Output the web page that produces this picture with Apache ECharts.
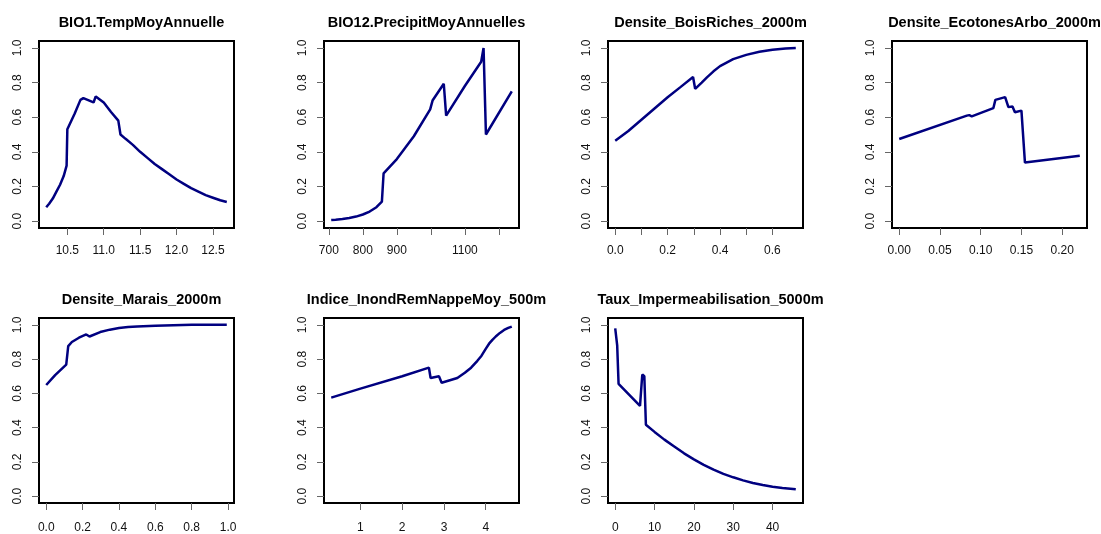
<!DOCTYPE html>
<html>
<head>
<meta charset="utf-8">
<script src="https://cdn.jsdelivr.net/npm/echarts@6/dist/echarts.min.js"></script>
<style>
  html, body { margin: 0; padding: 0; background: #fff; }
  #chart { width: 1101px; height: 534px; }
</style>
</head>
<body>
<div id="chart"></div>
<script>
// panel titles
const titles = [
    "BIO1.TempMoyAnnuelle",
    "BIO12.PrecipitMoyAnnuelles",
    "Densite_BoisRiches_2000m",
    "Densite_EcotonesArbo_2000m",
    "Densite_Marais_2000m",
    "Indice_InondRemNappeMoy_500m",
    "Taux_Impermeabilisation_5000m"
];

// response curves
const bio1X = [10.21, 10.25, 10.3, 10.35, 10.4, 10.45, 10.49, 10.5, 10.6, 10.68, 10.72, 10.86, 10.89, 11.0, 11.1, 11.2, 11.23,
               11.3, 11.4, 11.5, 11.6, 11.7, 11.8, 11.9, 12.0, 12.1, 12.2, 12.3, 12.4, 12.5, 12.6, 12.69];
const bio1Y = [0.08, 0.10, 0.13, 0.17, 0.21, 0.26, 0.32, 0.53, 0.62, 0.70, 0.71, 0.685, 0.72, 0.685, 0.63, 0.58, 0.50,
               0.475, 0.44, 0.40, 0.365, 0.33, 0.30, 0.27, 0.24, 0.215, 0.19, 0.17, 0.15, 0.135, 0.12, 0.11];

const bio12X = [707, 720, 740, 760, 780, 800, 820, 840, 856, 861, 900, 950, 998, 1005, 1038, 1045, 1100, 1148, 1155, 1162, 1238];
const bio12Y = [0.006, 0.008, 0.012, 0.018, 0.026, 0.038, 0.055, 0.08, 0.112, 0.275, 0.358, 0.49, 0.645, 0.696, 0.793, 0.609, 0.78, 0.92, 1.0, 0.50, 0.749];

const boisX = [0, 0.05, 0.1, 0.15, 0.2, 0.25, 0.297, 0.305, 0.33, 0.35, 0.375, 0.4, 0.45, 0.5, 0.55, 0.6, 0.65, 0.689];
const boisY = [0.464, 0.52, 0.585, 0.65, 0.715, 0.775, 0.832, 0.764, 0.80, 0.83, 0.865, 0.895, 0.935, 0.96, 0.978, 0.99, 0.997, 1.0];

const ecoX = [0, 0.083, 0.086, 0.089, 0.1155, 0.118, 0.13, 0.132, 0.134, 0.139, 0.142, 0.15, 0.1543, 0.2216];
const ecoY = [0.474, 0.609, 0.612, 0.605, 0.652, 0.70, 0.716, 0.716, 0.658, 0.662, 0.629, 0.638, 0.338, 0.377];

const maraisX = [0, 0.049, 0.11, 0.121, 0.141, 0.18, 0.22, 0.238, 0.297, 0.35, 0.4, 0.45, 0.5, 0.6, 0.7, 0.8, 0.993];
const maraisY = [0.649, 0.707, 0.768, 0.876, 0.90, 0.925, 0.944, 0.932, 0.958, 0.972, 0.981, 0.987, 0.991, 0.995, 0.998, 1.0, 1.0];

const inondX = [0.3, 1.0, 2.0, 2.64, 2.68, 2.88, 2.944, 3.32, 3.5, 3.65, 3.8, 3.9, 4.0, 4.08, 4.16, 4.24, 4.34, 4.44, 4.54, 4.624];
const inondY = [0.575, 0.628, 0.70, 0.75, 0.69, 0.70, 0.662, 0.69, 0.72, 0.75, 0.79, 0.82, 0.86, 0.89, 0.912, 0.932, 0.953, 0.97, 0.982, 0.99];

const impX = [0, 0.5, 0.85, 6.3, 6.88, 7.4, 7.8, 10, 12.5, 15, 17.5, 20, 22.5, 25, 27.5, 30, 32.5, 35, 37.5, 40, 42.5, 45.9];
const impY = [0.979, 0.88, 0.656, 0.527, 0.71, 0.70, 0.417, 0.375, 0.33, 0.29, 0.25, 0.215, 0.183, 0.155, 0.13, 0.11, 0.092, 0.077, 0.065, 0.055, 0.048, 0.04];

// axis ticks and labelled ticks
const yTicks = [0, 0.2, 0.4, 0.6, 0.8, 1.0];
const xTicks = [
    [10.5, 11.0, 11.5, 12.0, 12.5],
    [700, 800, 900, 1000, 1100, 1200],
    [0, 0.1, 0.2, 0.3, 0.4, 0.5, 0.6],
    [0, 0.05, 0.10, 0.15, 0.20],
    [0, 0.2, 0.4, 0.6, 0.8, 1.0],
    [1, 2, 3, 4],
    [0, 10, 20, 30, 40]
];
const xLabels = [
    [10.5, 11.0, 11.5, 12.0, 12.5],
    [700, 800, 900, 1100],
    [0, 0.2, 0.4, 0.6],
    [0, 0.05, 0.10, 0.15, 0.20],
    [0, 0.2, 0.4, 0.6, 0.8, 1.0],
    [1, 2, 3, 4],
    [0, 10, 20, 30, 40]
];
const xDigits = [1, 0, 1, 2, 1, 0, 0];

const curves = [
    [bio1X, bio1Y], [bio12X, bio12Y], [boisX, boisY], [ecoX, ecoY],
    [maraisX, maraisY], [inondX, inondY], [impX, impY]
];

// panel boxes (R plot regions)
const colLeft = [39, 324, 608, 892];
const rowTop = [41, 318];
const boxW = 195;
const boxH = [187, 186];

let chart = echarts.init(document.getElementById("chart"));

const grids = [], xAxes = [], yAxes = [], series = [], titleOpts = [];
const font = "Liberation Sans, Arial, sans-serif";

curves.forEach(([xs, ys], i) => {
    const row = Math.floor(i / 4), col = i % 4;
    const left = colLeft[col], top = rowTop[row], h = boxH[row];
    grids.push({
        left: left, top: top, width: boxW, height: h,
        show: true, borderColor: "#000", borderWidth: 2, backgroundColor: "transparent"
    });
    // R pads the data range by 4% on each side
    const lo = Math.min(...xs), hi = Math.max(...xs), pad = (hi - lo) * 0.04;
    xAxes.push({
        type: "value", gridIndex: i, min: lo - pad, max: hi + pad,
        axisLine: { show: false, onZero: false },
        splitLine: { show: false },
        axisTick: { show: true, length: 7, lineStyle: { color: "#666", width: 1 }, customValues: xTicks[i] },
        axisLabel: {
            customValues: xLabels[i], margin: 17 + row * 2, color: "#111", fontSize: 12, fontFamily: font,
            formatter: v => Number(v).toFixed(xDigits[i])
        }
    });
    yAxes.push({
        type: "value", gridIndex: i, min: -0.04, max: 1.04,
        axisLine: { show: false, onZero: false },
        splitLine: { show: false },
        axisTick: { show: true, length: 7, lineStyle: { color: "#666", width: 1 }, customValues: yTicks },
        axisLabel: {
            customValues: yTicks, rotate: 90, margin: 15, color: "#111", fontSize: 12, fontFamily: font,
            formatter: v => Number(v).toFixed(1)
        }
    });
    series.push({
        type: "line", xAxisIndex: i, yAxisIndex: i,
        data: xs.map((x, k) => [x, ys[k]]),
        showSymbol: false, smooth: false,
        lineStyle: { color: "#000080", width: 2.5 },
        animation: false
    });
    titleOpts.push({
        text: titles[i], left: left + boxW / 2, top: top - 31, textAlign: "center",
        textStyle: { fontSize: 14.5, fontWeight: "bold", color: "#000", fontFamily: font }
    });
});

chart.setOption({
    animation: false,
    title: titleOpts,
    grid: grids,
    xAxis: xAxes,
    yAxis: yAxes,
    series: series
});
</script>
</body>
</html>
